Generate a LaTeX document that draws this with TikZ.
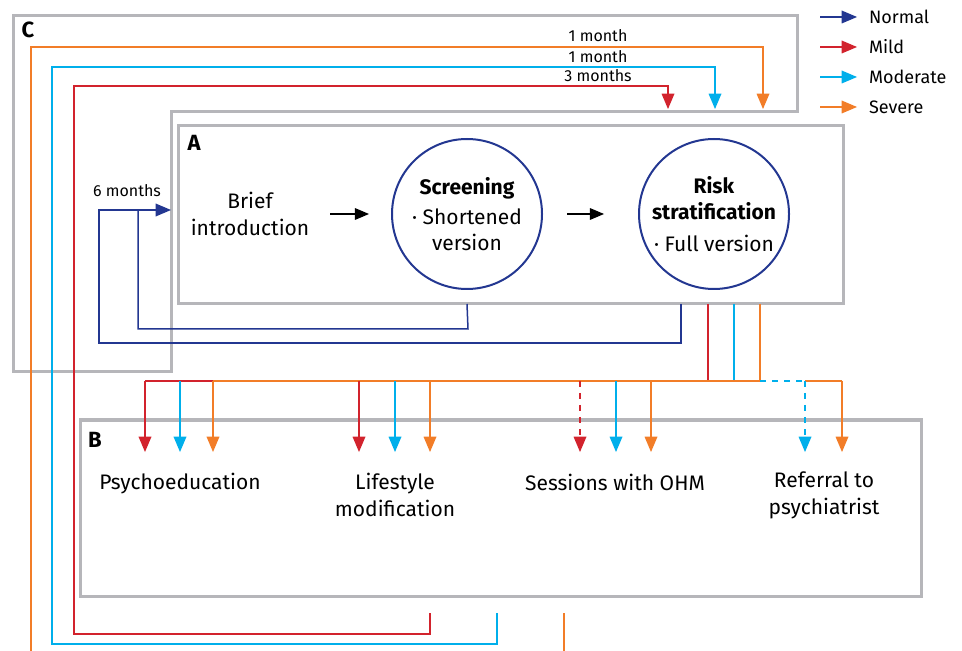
\documentclass[tikz,border=0pt]{standalone}
\usepackage{fontspec}
\setmainfont{Fira Sans}
\setsansfont{Fira Sans}
\usetikzlibrary{arrows,calc}
\definecolor{navy}{RGB}{35,55,145}
\definecolor{mild}{RGB}{210,35,45}
\definecolor{moderate}{RGB}{0,175,235}
\definecolor{severe}{RGB}{242,125,40}
\definecolor{boxgray}{RGB}{182,182,186}
\tikzset{every picture/.style={/utils/exec={\sffamily}}}
\tikzset{panel/.style={draw=boxgray, line width=1.5pt}}
\tikzset{flow/.style={-triangle 45, line width=0.75pt}}
\tikzset{stage/.style={circle, draw=navy, line width=1pt, minimum size=75pt, inner sep=0pt, align=center, font=\fontsize{10.5}{13}\selectfont}}
\tikzset{txt/.style={align=center, font=\fontsize{10.5}{13.5}\selectfont}}
\tikzset{small/.style={font=\fontsize{8}{9}\selectfont}}
\tikzset{panellabel/.style={font=\fontsize{11}{12}\selectfont\bfseries}}

\begin{document}
\begin{tikzpicture}[x=0.5pt, y=-0.5pt]
    \useasboundingbox (0, 0) rectangle (962, 651);
    % panels
    \draw [panel] (13, 16) -- (797, 16) -- (797, 112) -- (171, 112) -- (171, 372) -- (13, 372) -- cycle;
    \draw [panel] (178, 126) rectangle (843, 304);
    \draw [panel] (80, 420) rectangle (921, 596);
    \node [panellabel] (labC) at (28, 30) {C};
    \node [panellabel] (labA) at (194, 143) {A};
    \node [panellabel] (labB) at (95, 440) {B};
    % stages
    \node [txt] (intro) at (250, 214) {Brief\\introduction};
    \node [stage] (screen) at (467, 214) {\textbf{Screening}\\[2pt]· Shortened\\version};
    \node [stage] (risk) at (714, 214) {\textbf{Risk}\\\textbf{stratification}\\[3pt]· Full version};
    \draw [flow, line width=0.6pt, shorten <=7pt, shorten >=11pt] (intro.east) -- (screen.west);
    \draw [flow, line width=0.6pt, shorten <=12pt, shorten >=17pt] (screen.east) -- (risk.west);
    % follow-up after 6 months
    \coordinate (aBot) at (0, 304);
    \coordinate (riskOut) at (681, 304);
    \coordinate (normTip) at (171, 210);
    \draw [navy, line width=0.75pt] (screen |- aBot) -- (468, 329) -- (138, 329) -- (138, 210);
    \draw [flow, navy] (riskOut) -- (681, 343) -- (99, 343) -- (99, 210) -- (normTip);
    \node [small] (sixM) at (127, 191) {6 months};
    % interventions
    \node [txt] (psy) at (180, 484) {Psychoeducation};
    \node [txt] (life) at (395, 495) {Lifestyle\\modification};
    \node [txt] (ohm) at (615, 482) {Sessions with OHM};
    \node [txt] (refer) at (824, 495) {Referral to\\psychiatrist};
    \coordinate (modOut) at (734, 304);
    \coordinate (mildOut) at (708, 304);
    \coordinate (sevOut) at (760, 304);
    \draw [moderate, line width=0.75pt] (modOut) -- (734, 381) -- (180, 381);
    \draw [mild, line width=0.75pt] (mildOut) -- (708, 381) -- (145, 381);
    \draw [severe, line width=0.75pt] (sevOut) -- (760, 381) -- (213, 381);
    \draw [moderate, line width=0.75pt, dashed] (760, 381) -- (805, 381);
    \draw [severe, line width=0.75pt] (805, 381) -- (842, 381);
    \foreach \x in {145, 359}
        \draw [flow, mild] (\x, 381) -- (\x, 452);
    \foreach \x in {180, 395, 616}
        \draw [flow, moderate] (\x, 381) -- (\x, 452);
    \foreach \x in {213, 430, 651, 842}
        \draw [flow, severe] (\x, 381) -- (\x, 452);
    \draw [flow, mild, dashed] (580, 381) -- (580, 452);
    \draw [flow, moderate, dashed] (805, 381) -- (805, 452);
    % repeated assessment
    \coordinate (mildBack) at (430, 613);
    \coordinate (modBack) at (497, 613);
    \coordinate (sevBack) at (564, 613);
    \coordinate (mildIn) at (668, 109);
    \coordinate (modIn) at (715, 109);
    \coordinate (sevIn) at (763, 109);
    \draw [flow, mild] (mildBack) -- (430, 634) -- (74, 634) -- (74, 86) -- (668, 86) -- (mildIn);
    \draw [flow, moderate] (modBack) -- (497, 644) -- (52, 644) -- (52, 67) -- (715, 67) -- (modIn);
    \draw [severe, line width=0.75pt] (sevBack) -- (564, 651);
    \draw [flow, severe] (31, 651) -- (31, 47) -- (763, 47) -- (sevIn);
    \node [small] (mSev) at (598, 36) {1 month};
    \node [small] (mMod) at (598, 57) {1 month};
    \node [small] (mMild) at (598, 76) {3 months};
    % legend
    \foreach \col/\name [count=\i] in {navy/Normal, mild/Mild, moderate/Moderate, severe/Severe} {
        \draw [flow, \col] (820, {17 + 30*(\i-1)}) -- (857, {17 + 30*(\i-1)});
        \node [anchor=west, font=\fontsize{9}{10}\selectfont] (leg\i) at (862, {17 + 30*(\i-1)}) {\name};
    }
\end{tikzpicture}
\end{document}
